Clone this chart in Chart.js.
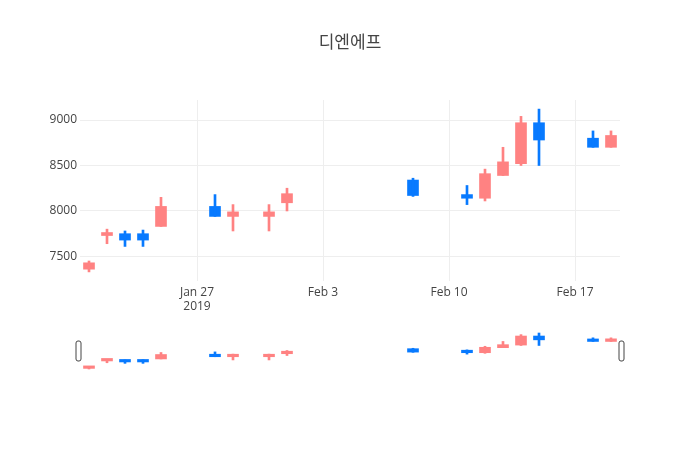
<!DOCTYPE html>
<html>
<head>
<meta charset="utf-8">
<script src="https://cdn.jsdelivr.net/npm/chart.js@4"></script>
<style>
  body { margin: 0; background: #fff; }
  #wrap { position: relative; width: 700px; height: 450px; }
  #mainChart { position: absolute; left: 0; top: 0; }
  #sliderChart { position: absolute; left: 0; top: 320px; }
</style>
</head>
<body>
<div id="wrap">
  <canvas id="mainChart" width="700" height="320"></canvas>
  <canvas id="sliderChart" width="700" height="70"></canvas>
</div>
<script>
const dates = ['2019-01-21', '2019-01-22', '2019-01-23', '2019-01-24', '2019-01-25', '2019-01-28', '2019-01-29', '2019-01-31', '2019-02-01',
    '2019-02-08', '2019-02-11', '2019-02-12', '2019-02-13', '2019-02-14', '2019-02-15', '2019-02-18', '2019-02-19'];
const openVals  = [7360, 7730, 7750, 7750, 7830, 8050, 7940, 7940, 8090, 8340, 8180, 8140, 8390, 8520, 8970, 8800, 8700];
const highVals  = [7450, 7800, 7780, 7790, 8150, 8180, 8070, 8070, 8250, 8360, 8280, 8460, 8700, 9040, 9120, 8880, 8880];
const lowVals   = [7330, 7640, 7610, 7610, 7830, 7940, 7780, 7780, 8000, 8160, 8070, 8110, 8390, 8500, 8500, 8700, 8700];
const closeVals = [7430, 7750, 7680, 7680, 8050, 7940, 7990, 7990, 8190, 8170, 8140, 8410, 8540, 8970, 8780, 8700, 8830];

const xTickDates = ['2019-01-27', '2019-02-03', '2019-02-10', '2019-02-17'];
const xTickLabels = [['Jan 27', '2019'], 'Feb 3', 'Feb 10', 'Feb 17'];
const yTicks = [7500, 8000, 8500, 9000];

const upColor = 'rgb(255,130,130)';
const downColor = 'rgb(8,122,255)';
const font = "'Open Sans', 'Noto Sans CJK KR', sans-serif";

const toDay = s => new Date(s + 'T00:00:00Z').getTime() / 864e5;
const days = dates.map(toDay);
const tickDays = xTickDates.map(toDay);
const colors = openVals.map((o, i) => closeVals[i] >= o ? upColor : downColor);

const xMin = days[0] - 0.5;
const xMax = days[days.length - 1] + 0.5;
const yMin = 7230;
const yMax = 9220;

const bodies = days.map((d, i) => ({ x: d, y: [openVals[i], closeVals[i]] }));
const wicks = days.map((d, i) => ({ x: d, y: [lowVals[i], highVals[i]] }));

function candleSets(bodyWidth, wickWidth, minLen) {
    return [{
        data: wicks,
        backgroundColor: colors,
        barThickness: wickWidth,
        grouped: false,
        borderWidth: 0
    }, {
        data: bodies,
        backgroundColor: colors,
        barThickness: bodyWidth,
        grouped: false,
        borderWidth: 0,
        minBarLength: minLen
    }];
}

new Chart(document.getElementById('mainChart'), {
    type: 'bar',
    data: { datasets: candleSets(11, 2, 3) },
    options: {
        responsive: false,
        animation: false,
        layout: { padding: 0 },
        scales: {
            x: {
                type: 'linear',
                min: xMin,
                max: xMax,
                offset: false,
                afterBuildTicks: scale => { scale.ticks = tickDays.map(v => ({ value: v })); },
                afterFit: scale => { scale.height = 39; },
                grid: { color: '#eee', drawTicks: false, offset: false },
                border: { display: false },
                ticks: {
                    padding: 4,
                    color: '#444',
                    font: { family: font, size: 12 },
                    maxRotation: 0,
                    callback: value => xTickLabels[tickDays.indexOf(value)]
                }
            },
            y: {
                min: yMin,
                max: yMax,
                afterBuildTicks: scale => { scale.ticks = yTicks.map(v => ({ value: v })); },
                afterFit: scale => { scale.width = 80; },
                grid: { color: '#eee', drawTicks: false },
                border: { display: false },
                ticks: {
                    padding: 3,
                    color: '#444',
                    font: { family: font, size: 12 },
                    callback: value => String(value)
                }
            },
            // empty right margin so the title centres on the page
            yRight: {
                position: 'right',
                afterFit: scale => { scale.width = 80; },
                grid: { display: false },
                border: { display: false },
                ticks: { display: false }
            }
        },
        plugins: {
            legend: { display: false },
            tooltip: { enabled: false },
            title: {
                display: true,
                text: '디엔에프',
                color: '#444',
                font: { family: font, size: 17, weight: 'normal' },
                padding: { top: 33, bottom: 46.6 }
            }
        }
    }
});

// range slider handles
const handles = {
    id: 'handles',
    afterDraw(chart) {
        const { ctx, chartArea } = chart;
        const mid = (chartArea.top + chartArea.bottom) / 2;
        ctx.save();
        ctx.fillStyle = '#fff';
        ctx.strokeStyle = '#444';
        ctx.lineWidth = 1;
        [chartArea.left - 1.5, chartArea.right + 1.5].forEach(cx => {
            ctx.beginPath();
            ctx.roundRect(cx - 2.5, mid - 10, 5, 20, 2);
            ctx.fill();
            ctx.stroke();
        });
        ctx.restore();
    }
};

new Chart(document.getElementById('sliderChart'), {
    type: 'bar',
    data: { datasets: candleSets(11, 2, 2.5) },
    options: {
        responsive: false,
        animation: false,
        layout: { padding: { left: 80, right: 80, top: 11, bottom: 19 } },
        scales: {
            x: { type: 'linear', min: xMin, max: xMax, offset: false, display: false },
            y: { min: yMin, max: yMax, display: false }
        },
        plugins: {
            legend: { display: false },
            tooltip: { enabled: false }
        }
    },
    plugins: [handles]
});
</script>
</body>
</html>
